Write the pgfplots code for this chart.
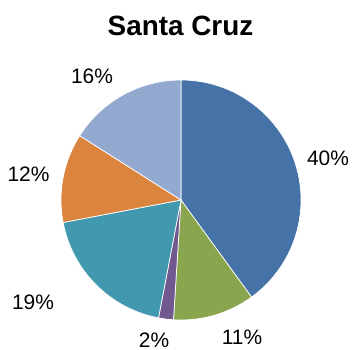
\documentclass[border=0pt]{standalone}
\usepackage{pgfplots}
\pgfplotsset{compat=1.18}
\usepackage{pgfplotstable}
\usepackage{fontspec}
\setmainfont{Liberation Sans}
\definecolor{cA}{HTML}{4572A7}
\definecolor{cB}{HTML}{89A54E}
\definecolor{cC}{HTML}{71588F}
\definecolor{cD}{HTML}{4198AF}
\definecolor{cE}{HTML}{DB843D}
\definecolor{cF}{HTML}{93A9CF}
\pgfplotstableread{
value color lx ly
40 cA 328 185
11 cB 242 6
2 cC 154 3
19 cD 33 41
12 cE 28.5 169
16 cF 92 267
}\piedata
\begin{document}
\begin{tikzpicture}
\begin{axis}[hide axis, scale only axis, width=352bp, height=350bp,
  xmin=0, xmax=352, ymin=0, ymax=350, clip=false]
\path (axis cs:0,0) rectangle (axis cs:352,350);
\def\curangle{90}
\pgfplotsforeachungrouped \i in {0,...,5}{%
  \pgfplotstablegetelem{\i}{value}\of\piedata \let\v\pgfplotsretval
  \pgfplotstablegetelem{\i}{color}\of\piedata \let\c\pgfplotsretval
  \pgfplotstablegetelem{\i}{lx}\of\piedata \let\lx\pgfplotsretval
  \pgfplotstablegetelem{\i}{ly}\of\piedata \let\ly\pgfplotsretval
  \pgfmathsetmacro\endangle{\curangle-3.6*\v}%
  \edef\temp{\noexpand\fill[\c, draw=white, line width=0.7bp, line join=round] (axis cs:181,150) -- ++(\curangle:120bp) arc[start angle=\curangle, end angle=\endangle, radius=120bp] -- cycle;
  \noexpand\node[anchor=base, inner sep=0pt, text depth=0pt, font=\noexpand\fontsize{21}{24}\noexpand\selectfont] at (axis cs:\lx,\ly) {\v\noexpand\%};}%
  \temp
  \global\let\curangle\endangle
}
\node[anchor=base, inner sep=0pt, text depth=0pt, font=\fontsize{28}{32}\selectfont\bfseries] at (axis cs:180.5,315) {Santa Cruz};
\end{axis}
\end{tikzpicture}
\end{document}
